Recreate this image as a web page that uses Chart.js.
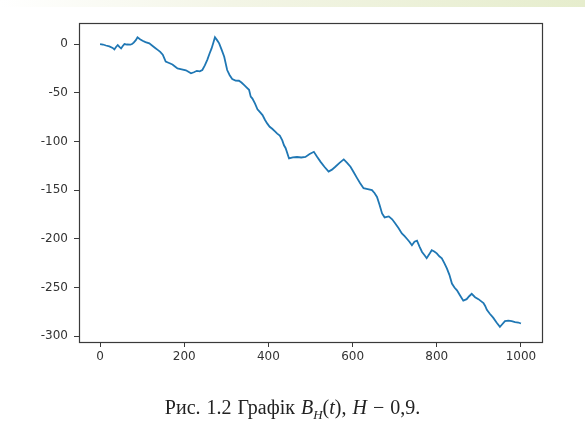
<!DOCTYPE html>
<html>
<head>
<meta charset="utf-8">
<script src="https://cdn.jsdelivr.net/npm/chart.js@4/dist/chart.umd.min.js"></script>
<style>
  html, body {
    margin: 0;
    padding: 0;
    background: #ffffff;
  }
  #wrap {
    position: relative;
    width: 585px;
    height: 427px;
    overflow: hidden;
  }
  #topStrip {
    position: absolute;
    left: 0;
    top: 0;
    width: 585px;
    height: 7px;
    background: linear-gradient(to right, #ffffff 0%, #f3f5e6 40%, #e6edcd 100%);
  }
  #chartCanvas {
    position: absolute;
    left: 0;
    top: 0;
  }
  #caption {
    position: absolute;
    left: 0;
    top: 396px;
    width: 585px;
    text-align: center;
    font-family: "Liberation Serif", "DejaVu Serif", serif;
    font-size: 20px;
    line-height: 22px;
    word-spacing: 1px;
    color: #222222;
  }
  #caption sub {
    font-size: 13px;
  }
</style>
</head>
<body>
<div id="wrap">
  <div id="topStrip"></div>
  <canvas id="chartCanvas" width="585" height="427"></canvas>
  <div id="caption">Рис. 1.2 Графік <i>B</i><sub><i>H</i></sub>(<i>t</i>), <i>H</i> − 0,9.</div>
</div>
<script>
const timeValues = [
  0, 7, 14, 22, 30, 34, 38, 42, 46, 50, 54, 58, 64, 72, 76, 80, 85, 89, 95, 101,
  108, 117, 125, 131, 137, 143, 149, 153, 156, 164, 172, 178, 184, 194, 204, 210, 216, 223, 230, 237,
  243, 249, 255, 260, 265, 269, 273, 278, 283, 289, 295, 302, 308, 314, 322, 330, 336, 342, 348, 354,
  358, 362, 368, 374, 380, 386, 392, 397, 403, 409, 415, 421, 427, 433, 437, 441, 449, 458, 468, 478,
  488, 498, 508, 516, 524, 533, 543, 551, 559, 569, 579, 587, 595, 603, 611, 618, 626, 636, 646, 652,
  658, 664, 670, 676, 686, 694, 701, 709, 717, 723, 729, 735, 741, 747, 753, 759, 765, 771, 776, 782,
  788, 794, 800, 806, 812, 818, 824, 830, 836, 842, 848, 855, 863, 871, 877, 883, 891, 899, 905, 911,
  915, 919, 926, 934, 942, 950, 955, 962, 970, 978, 986, 994, 1000
];

const seriesValues = [
  0, -0.5, -1.5, -2.5, -4, -5.5, -3, -1, -3, -4.5, -2, 0, -0.5, -0.7, 0, 1.4, 4, 6.9, 5, 3.4,
  2, 0.7, -2, -4, -6, -8, -11, -15, -18, -19.5, -21, -23, -25, -26, -27, -28.5, -30, -29, -27.5, -28,
  -26.7, -22, -16, -10, -4.5, 1, 6.9, 4, 0.7, -6, -13, -26.7, -32, -36, -37.5, -37.7, -39.5, -42, -44.5, -47,
  -54, -56, -61, -67, -70, -73, -78, -81.5, -85, -87, -89.5, -92, -94, -99, -104, -107, -117.5, -116.5, -116, -116.5,
  -116, -113, -110.7, -116, -121, -126, -131, -129, -126, -122, -118.5, -122, -126, -132, -138, -143, -148, -149, -150, -153,
  -157, -165, -174, -178, -177, -180, -184, -189, -194.5, -197, -200, -203, -206.6, -203, -202, -208, -213.5, -217, -220, -216,
  -211.7, -213, -215, -218, -220, -225, -230.5, -237, -246, -250, -253, -258, -263.5, -262, -259, -256.5, -260, -262, -264, -266,
  -269, -273, -277, -281, -286, -290.5, -288, -284.5, -284, -284.5, -285.5, -286, -287
];

const xTickValues = [0, 200, 400, 600, 800, 1000];
const yTickValues = [0, -50, -100, -150, -200, -250, -300];

const tickFont = {
  family: "DejaVu Sans",
  size: 12
};

// matplotlib-style box around the plot area
const frameBox = {
  id: "frameBox",
  afterDraw(chart) {
    const { ctx, chartArea } = chart;
    ctx.save();
    ctx.strokeStyle = "#3a3a3a";
    ctx.lineWidth = 1.2;
    ctx.strokeRect(
      Math.round(chartArea.left) + 0.5,
      Math.round(chartArea.top) + 0.5,
      Math.round(chartArea.right - chartArea.left),
      Math.round(chartArea.bottom - chartArea.top)
    );
    ctx.restore();
  }
};

function formatTick(value) {
  return String(value);
}

const linePoints = timeValues.map((t, index) => ({ x: t, y: seriesValues[index] }));

new Chart(document.getElementById("chartCanvas"), {
  type: "line",
  data: {
    datasets: [
      {
        data: linePoints,
        borderColor: "#1f77b4",
        borderWidth: 1.8,
        pointRadius: 0,
        tension: 0,
        fill: false
      }
    ]
  },
  options: {
    responsive: false,
    animation: false,
    events: [],
    layout: {
      padding: {
        left: 0,
        top: 23,
        right: 43,
        bottom: 55
      }
    },
    plugins: {
      legend: { display: false },
      tooltip: { enabled: false }
    },
    scales: {
      x: {
        type: "linear",
        min: -50,
        max: 1050,
        afterBuildTicks(scale) {
          scale.ticks = xTickValues.map((value) => ({ value }));
        },
        afterFit(scale) {
          scale.height = 30;
        },
        border: { display: false },
        grid: {
          drawOnChartArea: false,
          tickLength: 5,
          tickColor: "#3a3a3a"
        },
        ticks: {
          color: "#333333",
          font: tickFont,
          padding: 3,
          maxRotation: 0,
          callback: formatTick
        }
      },
      y: {
        type: "linear",
        min: -306,
        max: 21.6,
        afterBuildTicks(scale) {
          scale.ticks = yTickValues.map((value) => ({ value }));
        },
        afterFit(scale) {
          scale.width = 79;
        },
        border: { display: false },
        grid: {
          drawOnChartArea: false,
          tickLength: 5,
          tickColor: "#3a3a3a"
        },
        ticks: {
          color: "#333333",
          font: tickFont,
          padding: 6,
          callback: formatTick
        }
      }
    }
  },
  plugins: [frameBox]
});
</script>
</body>
</html>
